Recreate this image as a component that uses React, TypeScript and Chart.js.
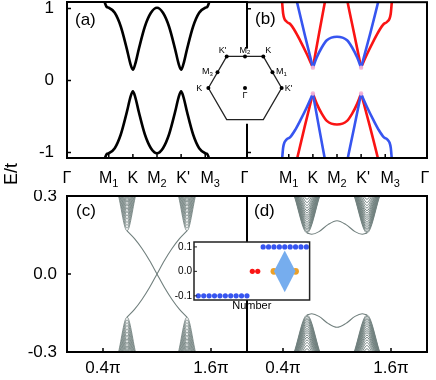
import React, { useEffect, useRef } from 'react';
import { Chart, registerables } from 'chart.js';

Chart.register(...registerables);

const FONT = "'Liberation Sans', Arial, Helvetica, sans-serif";

// ===== Top panels (a), (b): bands along Γ–M1–K–M2–K'–M3–Γ (path coordinate) =====
const pathTicks = [0, 1.732, 2.732, 3.732, 4.732, 5.732, 7.464];
const pathNames = ['Γ', 'M', 'K', 'M', "K'", 'M', 'Γ'];
const pathSubs = ['', '1', '', '2', '', '3', ''];
const topYTicks = [-1, 0, 1];

// (a) black bands
const aX = [1.45, 1.55, 1.65, 1.732, 1.98, 2.23, 2.48, 2.63, 2.732, 2.83, 2.98, 3.23, 3.48, 3.732, 3.98, 4.23, 4.48, 4.63, 4.732, 4.83, 4.98, 5.23, 5.48, 5.732, 5.81, 5.91, 6.01];
const aUpper = [1.23, 1.1, 1.02, 1.01, 0.94, 0.75, 0.44, 0.23, 0.15, 0.23, 0.44, 0.75, 0.94, 1.01, 0.94, 0.75, 0.44, 0.23, 0.15, 0.23, 0.44, 0.75, 0.94, 1.01, 1.02, 1.1, 1.23];
const aLower = [-1.23, -1.1, -1.02, -1.01, -0.94, -0.75, -0.44, -0.23, -0.15, -0.23, -0.44, -0.75, -0.94, -1.01, -0.94, -0.75, -0.44, -0.23, -0.15, -0.23, -0.44, -0.75, -0.94, -1.01, -1.02, -1.1, -1.23];

// (b) red / blue bands (upper)
const bR1X = [1.4, 1.45, 1.5, 1.64, 1.78, 1.99, 2.2, 2.48, 2.68, 2.732];
const bR1Y = [1.25, 1.11, 0.93, 0.82, 0.79, 0.69, 0.56, 0.37, 0.22, 0.18];
const bB1X = [2.0, 2.06, 2.4, 2.732];
const bB1Y = [1.2, 1.11, 0.63, 0.18];
const bR2X = [2.732, 2.98, 3.24, 3.29];
const bR2Y = [0.18, 0.64, 1.11, 1.2];
const bB2X = [2.732, 2.89, 3.1, 3.31, 3.732, 4.15, 4.36, 4.57, 4.732];
const bB2Y = [0.18, 0.32, 0.46, 0.56, 0.61, 0.56, 0.46, 0.32, 0.18];
const bR3X = [4.11, 4.16, 4.45, 4.732];
const bR3Y = [1.2, 1.11, 0.64, 0.18];
const bB3X = [4.732, 5.09, 5.45, 5.51];
const bB3Y = [0.18, 0.63, 1.11, 1.2];
const bR4X = [4.732, 4.78, 4.98, 5.26, 5.47, 5.68, 5.82, 5.96, 6.01, 6.06];
const bR4Y = [0.18, 0.22, 0.37, 0.56, 0.69, 0.79, 0.82, 0.93, 1.11, 1.25];
// (b) lower bands
const bB4Y = [-1.25, -1.11, -0.93, -0.82, -0.79, -0.69, -0.56, -0.37, -0.22, -0.18]; // on bR1X
const bR5Y = [-1.2, -1.11, -0.63, -0.18]; // on bB1X
const bB5Y = [-0.18, -0.64, -1.11, -1.2]; // on bR2X
const bR6Y = [-0.18, -0.32, -0.46, -0.56, -0.61, -0.56, -0.46, -0.32, -0.18]; // on bB2X
const bB6Y = [-1.2, -1.11, -0.64, -0.18]; // on bR3X
const bR7Y = [-0.18, -0.63, -1.11, -1.2]; // on bB3X
const bB7Y = [-0.18, -0.22, -0.37, -0.56, -0.69, -0.79, -0.82, -0.93, -1.11, -1.25]; // on bR4X
// (b) band-edge tips where red and blue meet
const bTipX = [2.732, 4.732, 2.732, 4.732];
const bTipY = [0.18, 0.18, -0.18, -0.18];

// Brillouin zone inset
const hexX = [-1, -0.5, 0.5, 1, 0.5, -0.5, -1];
const hexY = [0, 0.866, 0.866, 0, -0.866, -0.866, 0];
const bzX = [-0.5, 0, 0.5, 0.75, 1, 0, -1, -0.75];
const bzY = [0.866, 0.866, 0.866, 0.433, 0, 0, 0, 0.433];
const bzNames = ["K'", 'M', 'K', 'M', "K'", 'Γ', 'K', 'M'];
const bzSubs = ['', '2', '', '1', '', '', '', '3'];

// ===== Bottom panels (c), (d): ribbon spectra, k in units of π =====
const kTicks = [0.4, 1.6];
const botYTicks = [-0.3, 0, 0.3];
const coneK = [0.667, 1.333];

const cTipUp = [0.166, 0.176, 0.187, 0.198, 0.21, 0.222, 0.235, 0.248, 0.262, 0.276, 0.29];
const cTipDown = [-0.166, -0.176, -0.187, -0.198, -0.21, -0.222, -0.235, -0.248, -0.262, -0.276, -0.29];
const cHalfW = [0.094, 0.087, 0.079, 0.071, 0.063, 0.055, 0.046, 0.037, 0.027, 0.018, 0.008];
const cEdgeX = [0.667, 0.75, 0.833, 0.917, 1.0, 1.083, 1.167, 1.25, 1.333];
const cEdgeA = [0.166, 0.136, 0.098, 0.052, 0, -0.052, -0.098, -0.136, -0.166];
const cEdgeB = [-0.166, -0.136, -0.098, -0.052, 0, 0.052, 0.098, 0.136, 0.166];

const dTipUp = [0.158, 0.163, 0.169, 0.175, 0.181, 0.188, 0.195, 0.202, 0.21, 0.218, 0.226, 0.235, 0.244, 0.254, 0.264, 0.275, 0.287];
const dTipDown = [-0.158, -0.163, -0.169, -0.175, -0.181, -0.188, -0.195, -0.202, -0.21, -0.218, -0.226, -0.235, -0.244, -0.254, -0.264, -0.275, -0.287];
const dHalfW = [0.142, 0.139, 0.136, 0.133, 0.13, 0.126, 0.122, 0.118, 0.113, 0.108, 0.102, 0.095, 0.088, 0.079, 0.069, 0.055, 0.036];
const dEdgeX = [0.667, 0.72, 0.8, 0.9, 1.0, 1.1, 1.2, 1.28, 1.333];
const dEdgeUp = [0.158, 0.153, 0.163, 0.19, 0.205, 0.19, 0.163, 0.153, 0.158];
const dEdgeDown = [-0.158, -0.153, -0.163, -0.19, -0.205, -0.19, -0.163, -0.153, -0.158];

// inset (energy vs state number)
const insLowN = [1, 2, 3, 4, 5, 6, 7, 8, 9, 10];
const insLowE = [-0.1, -0.1, -0.1, -0.1, -0.1, -0.1, -0.1, -0.1, -0.1, -0.1];
const insRedN = [11, 12];
const insRedE = [0, 0];
const insHighN = [13, 14, 15, 16, 17, 18, 19, 20, 21];
const insHighE = [0.1, 0.1, 0.1, 0.1, 0.1, 0.1, 0.1, 0.1, 0.1];
const insOrangeN = [15, 19];
const insOrangeE = [0, 0];
const diamondN = [15, 17, 19, 17, 15];
const diamondE = [0, 0.085, 0, -0.085, 0];
const insYTicks = [-0.1, 0, 0.1];

// ===== styles =====
const RED = 'rgb(250,20,20)';
const BLUE = 'rgb(55,85,240)';
const GRAY = 'rgb(112,127,125)';
const PINK = 'rgba(246,178,214,0.95)';
const PATH_SHIFT = [0, 0, 0, 0, 2, 5, -2];
const BZ_DX = [-4, 0, 5, 9, 7, 0, -9, -10];
const BZ_DY = [-7, -7, -7, -1, 0, 7, 0, -1];

type Pt = { x: number; y: number };
const zip = (xs: number[], ys: number[]): Pt[] => xs.map((x, i) => ({ x, y: ys[i] }));

const lineDs = (data: Pt[], color: string, width: number, extra: any = {}) => ({
  data,
  borderColor: color,
  borderWidth: width,
  pointRadius: 0,
  pointHoverRadius: 0,
  fill: false,
  cubicInterpolationMode: 'monotone',
  order: 1,
  ...extra,
});

const dotDs = (xs: number[], ys: number[], color: string, r: number, order = 1) => ({
  data: zip(xs, ys),
  showLine: false,
  pointRadius: r,
  pointHoverRadius: r,
  pointBackgroundColor: color,
  pointBorderWidth: 0,
  borderColor: color,
  order,
});

function coneDatasets(centers: number[], tips: number[], halfW: number[], edgeY: number, width: number) {
  const out: any[] = [];
  centers.forEach((k) =>
    tips.forEach((t, i) =>
      out.push(
        lineDs(
          [
            { x: k - halfW[i], y: edgeY },
            { x: k, y: t },
            { x: k + halfW[i], y: edgeY },
          ],
          GRAY,
          width
        )
      )
    )
  );
  return out;
}

function drawSub(ctx: any, main: string, sub: string, cx: number, cy: number, size: number, subSize: number) {
  ctx.font = `${size}px ${FONT}`;
  const mw = ctx.measureText(main).width;
  ctx.font = `${subSize}px ${FONT}`;
  const sw = sub ? ctx.measureText(sub).width : 0;
  const x0 = cx - (mw + sw) / 2;
  const base = cy + size * 0.36;
  ctx.textAlign = 'left';
  ctx.textBaseline = 'alphabetic';
  ctx.font = `${size}px ${FONT}`;
  ctx.fillText(main, x0, base);
  if (sub) {
    ctx.font = `${subSize}px ${FONT}`;
    ctx.fillText(sub, x0 + mw, base + subSize * 0.3);
  }
}

const framePlugin = {
  id: 'frame',
  beforeDraw(chart: any, _a: any, o: any) {
    if (!o || !o.bg) return;
    const { ctx, chartArea: a } = chart;
    ctx.save();
    ctx.fillStyle = o.bg;
    ctx.fillRect(a.left, a.top, a.right - a.left, a.bottom - a.top);
    ctx.restore();
  },
  afterDatasetsDraw(chart: any, _a: any, o: any) {
    if (!o || o.off) return;
    const { ctx, chartArea: a } = chart;
    ctx.save();
    ctx.strokeStyle = o.color || '#000';
    ctx.lineWidth = o.width || 2;
    ctx.strokeRect(a.left, a.top, a.right - a.left, a.bottom - a.top);
    const len = o.tickLen ?? 4;
    ctx.lineWidth = o.tickWidth ?? 1.5;
    ctx.beginPath();
    (o.xTicks || []).forEach((t: number) => {
      const px = chart.scales.x.getPixelForValue(t);
      ctx.moveTo(px, a.bottom);
      ctx.lineTo(px, a.bottom - len);
    });
    (o.yTicks || []).forEach((t: number) => {
      const py = chart.scales.y.getPixelForValue(t);
      ctx.moveTo(a.left, py);
      ctx.lineTo(a.left + len, py);
    });
    ctx.stroke();
    ctx.restore();
  },
};

const bzPlugin = {
  id: 'bzbox',
  beforeDatasetsDraw(chart: any, _a: any, o: any) {
    if (!o || !o.box) return;
    const xs = chart.scales.x;
    const ys = chart.scales.y;
    const [x0, x1, y0, y1] = o.box;
    const ctx = chart.ctx;
    ctx.save();
    ctx.fillStyle = '#fff';
    const l = xs.getPixelForValue(x0);
    const r = xs.getPixelForValue(x1);
    const t = ys.getPixelForValue(y1);
    const b = ys.getPixelForValue(y0);
    ctx.fillRect(l, t, r - l, b - t);
    ctx.restore();
  },
};

const textPlugin = {
  id: 'texts',
  afterDraw(chart: any, _a: any, o: any) {
    if (!o) return;
    const { ctx, chartArea: a } = chart;
    ctx.save();
    ctx.fillStyle = '#000';
    if (o.panel) {
      ctx.font = `17px ${FONT}`;
      ctx.textAlign = 'left';
      ctx.textBaseline = 'middle';
      ctx.fillText(o.panel, a.left + o.panelDx, a.top + o.panelDy);
    }
    if (o.path) {
      const xs = chart.scales.x;
      pathTicks.forEach((v, i) => {
        if (o.skip && o.skip.includes(i)) return;
        drawSub(ctx, pathNames[i], pathSubs[i], xs.getPixelForValue(v) + PATH_SHIFT[i], a.bottom + 19.5, 16, 11);
      });
    }
    if (o.bz) {
      const xs = chart.scales.x;
      const ys = chart.scales.y;
      bzX.forEach((v, i) => {
        drawSub(ctx, bzNames[i], bzSubs[i], xs.getPixelForValue(v) + BZ_DX[i], ys.getPixelForValue(bzY[i]) + BZ_DY[i], 9, 6);
      });
    }
    if (o.xTitle) {
      ctx.font = `11px ${FONT}`;
      ctx.textAlign = 'center';
      ctx.textBaseline = 'middle';
      ctx.fillText(o.xTitle, (a.left + a.right) / 2, a.bottom + o.xTitleDy);
    }
    ctx.restore();
  },
};

const zeroPad = (s: any) => {
  s.paddingTop = 0;
  s.paddingBottom = 0;
  s.paddingLeft = 0;
  s.paddingRight = 0;
};

function axes(p: any) {
  const font = { family: FONT, size: p.fontSize ?? 17 };
  return {
    x: {
      type: 'linear',
      min: p.xMin,
      max: p.xMax,
      afterBuildTicks: (s: any) => {
        s.ticks = p.xTicks.map((value: number) => ({ value }));
      },
      afterFit: (s: any) => {
        s.height = p.xHeight;
        zeroPad(s);
      },
      grid: { display: false, drawTicks: false },
      border: { display: false },
      ticks: {
        display: !!p.xFmt,
        font,
        color: '#000',
        padding: p.xPad ?? 6,
        maxRotation: 0,
        autoSkip: false,
        callback: (v: number) => (p.xFmt ? p.xFmt(v) : ''),
      },
    },
    y: {
      type: 'linear',
      min: p.yMin,
      max: p.yMax,
      afterBuildTicks: (s: any) => {
        s.ticks = p.yTicks.map((value: number) => ({ value }));
      },
      afterFit: (s: any) => {
        s.width = p.yWidth;
        zeroPad(s);
      },
      grid: { display: false, drawTicks: false },
      border: { display: false },
      ticks: {
        display: !!p.yFmt,
        font,
        color: '#000',
        padding: p.yPad ?? 10,
        autoSkip: false,
        callback: (v: number) => (p.yFmt ? p.yFmt(v) : ''),
      },
    },
  };
}

function options(scales: any, plugins: any, padding: any) {
  return {
    animation: false,
    responsive: false,
    maintainAspectRatio: false,
    events: [],
    layout: { padding },
    scales,
    plugins: { legend: { display: false }, tooltip: { enabled: false }, ...plugins },
  };
}

const PLUGINS = [framePlugin, bzPlugin, textPlugin];

export default function App() {
  const refA = useRef<HTMLCanvasElement>(null);
  const refB = useRef<HTMLCanvasElement>(null);
  const refC = useRef<HTMLCanvasElement>(null);
  const refD = useRef<HTMLCanvasElement>(null);
  const refHex = useRef<HTMLCanvasElement>(null);
  const refIns = useRef<HTMLCanvasElement>(null);

  useEffect(() => {
    const charts: any[] = [];
    const fmt1 = (v: number) => v.toFixed(1);
    const fmtPi = (v: number) => `${v}π`;

    // (a)
    charts.push(
      new Chart(refA.current as any, {
        type: 'line',
        data: {
          datasets: [lineDs(zip(aX, aUpper), '#000', 2.6), lineDs(zip(aX, aLower), '#000', 2.6)],
        },
        options: options(
          axes({ xMin: 0, xMax: 7.464, yMin: -1.076, yMax: 1.09, xTicks: pathTicks, yTicks: topYTicks, yWidth: 67, xHeight: 34, yFmt: (v: number) => String(v), yPad: 13 }),
          { frame: { xTicks: pathTicks.slice(1, -1), yTicks: topYTicks }, texts: { panel: '(a)', panelDx: 8, panelDy: 18, path: true } },
          { top: 2, right: 1, left: 0, bottom: 0 }
        ),
        plugins: PLUGINS,
      } as any)
    );

    // (b)
    charts.push(
      new Chart(refB.current as any, {
        type: 'line',
        data: {
          datasets: [
            lineDs(zip(bB1X, bB1Y), BLUE, 2.6),
            lineDs(zip(bB2X, bB2Y), BLUE, 2.6),
            lineDs(zip(bB3X, bB3Y), BLUE, 2.6),
            lineDs(zip(bR1X, bB4Y), BLUE, 2.6),
            lineDs(zip(bR2X, bB5Y), BLUE, 2.6),
            lineDs(zip(bR3X, bB6Y), BLUE, 2.6),
            lineDs(zip(bR4X, bB7Y), BLUE, 2.6),
            lineDs(zip(bR1X, bR1Y), RED, 2.6),
            lineDs(zip(bR2X, bR2Y), RED, 2.6),
            lineDs(zip(bR3X, bR3Y), RED, 2.6),
            lineDs(zip(bR4X, bR4Y), RED, 2.6),
            lineDs(zip(bB1X, bR5Y), RED, 2.6),
            lineDs(zip(bB2X, bR6Y), RED, 2.6),
            lineDs(zip(bB3X, bR7Y), RED, 2.6),
            dotDs(bTipX, bTipY, PINK, 2.2, 0),
          ],
        },
        options: options(
          axes({ xMin: 0, xMax: 7.464, yMin: -1.076, yMax: 1.09, xTicks: pathTicks, yTicks: topYTicks, yWidth: 10, xHeight: 34 }),
          { frame: { xTicks: pathTicks.slice(1, -1), yTicks: topYTicks }, texts: { panel: '(b)', panelDx: 8, panelDy: 17, path: true, skip: [0] } },
          { top: 2, right: 9, left: 0, bottom: 0 }
        ),
        plugins: PLUGINS,
      } as any)
    );

    // (c)
    charts.push(
      new Chart(refC.current as any, {
        type: 'line',
        data: {
          datasets: [
            ...coneDatasets(coneK, cTipUp, cHalfW, 0.3, 0.85),
            ...coneDatasets(coneK, cTipDown, cHalfW, -0.3, 0.85),
            lineDs(zip(cEdgeX, cEdgeA), GRAY, 1.1),
            lineDs(zip(cEdgeX, cEdgeB), GRAY, 1.1),
          ],
        },
        options: options(
          axes({ xMin: 0, xMax: 2, yMin: -0.3, yMax: 0.3, xTicks: kTicks, yTicks: botYTicks, yWidth: 67, xHeight: 28, xFmt: fmtPi, yFmt: fmt1, yPad: 10, xPad: 6 }),
          { frame: { xTicks: kTicks, yTicks: [0] }, texts: { panel: '(c)', panelDx: 9, panelDy: 15 } },
          { top: 6, right: 1, left: 0, bottom: 0 }
        ),
        plugins: PLUGINS,
      } as any)
    );

    // (d)
    charts.push(
      new Chart(refD.current as any, {
        type: 'line',
        data: {
          datasets: [
            ...coneDatasets(coneK, dTipUp, dHalfW, 0.3, 0.95),
            ...coneDatasets(coneK, dTipDown, dHalfW, -0.3, 0.95),
            lineDs(zip(dEdgeX, dEdgeUp), GRAY, 1.1),
            lineDs(zip(dEdgeX, dEdgeDown), GRAY, 1.1),
          ],
        },
        options: options(
          axes({ xMin: 0, xMax: 2, yMin: -0.3, yMax: 0.3, xTicks: kTicks, yTicks: botYTicks, yWidth: 10, xHeight: 28, xFmt: fmtPi, xPad: 6 }),
          { frame: { xTicks: kTicks, yTicks: [0] }, texts: { panel: '(d)', panelDx: 7, panelDy: 15 } },
          { top: 6, right: 9, left: 0, bottom: 0 }
        ),
        plugins: PLUGINS,
      } as any)
    );

    // Brillouin zone
    charts.push(
      new Chart(refHex.current as any, {
        type: 'line',
        data: {
          datasets: [
            {
              data: zip(hexX, hexY),
              borderColor: '#222',
              borderWidth: 1.3,
              backgroundColor: '#fff',
              fill: 'shape',
              pointRadius: 0,
              tension: 0,
              order: 2,
            },
            dotDs(bzX, bzY, '#000', 2, 1),
          ],
        },
        options: {
          animation: false,
          responsive: false,
          maintainAspectRatio: false,
          events: [],
          layout: { padding: 0 },
          scales: {
            x: { type: 'linear', display: false, min: -1.447, max: 1.447 },
            y: { type: 'linear', display: false, min: -1.316, max: 1.316 },
          },
          plugins: {
            legend: { display: false },
            tooltip: { enabled: false },
            frame: { off: true },
            bzbox: { box: [-0.28, 0.28, -0.98, 1.08] },
            texts: { bz: true },
          },
        },
        plugins: PLUGINS,
      } as any)
    );

    // inset
    charts.push(
      new Chart(refIns.current as any, {
        type: 'line',
        data: {
          datasets: [
            dotDs(insLowN, insLowE, BLUE, 2.6),
            dotDs(insHighN, insHighE, BLUE, 2.6),
            dotDs(insRedN, insRedE, RED, 2.6),
            dotDs(insOrangeN, insOrangeE, 'rgb(236,160,40)', 3.4),
            {
              data: zip(diamondN, diamondE),
              borderWidth: 0,
              borderColor: 'rgba(0,0,0,0)',
              backgroundColor: 'rgb(118,173,238)',
              fill: 'shape',
              pointRadius: 0,
              tension: 0,
              order: 0,
            },
          ],
        },
        options: options(
          axes({ xMin: 0.2, xMax: 21.6, yMin: -0.117, yMax: 0.12, xTicks: [], yTicks: insYTicks, yWidth: 26, xHeight: 16, yFmt: fmt1, yPad: 2, fontSize: 10 }),
          { frame: { bg: '#fff', width: 1.5, color: '#222', yTicks: insYTicks, tickLen: 3, tickWidth: 1 }, texts: { xTitle: 'Number', xTitleDy: 6 } },
          { top: 4, right: 2, left: 0, bottom: 0 }
        ),
        plugins: PLUGINS,
      } as any)
    );

    return () => charts.forEach((c) => c.destroy());
  }, []);

  const abs = (left: number, top: number, width: number, height: number): React.CSSProperties => ({
    position: 'absolute',
    left,
    top,
    width,
    height,
  });

  return (
    <div style={{ position: 'absolute', left: 0, top: 0, width: 436, height: 380, background: '#fff', overflow: 'hidden' }}>
      <canvas ref={refA} width={248} height={192} style={abs(0, 0, 248, 192)} />
      <canvas ref={refB} width={199} height={192} style={abs(237, 0, 199, 192)} />
      <canvas ref={refC} width={248} height={190} style={abs(0, 190, 248, 190)} />
      <canvas ref={refD} width={199} height={190} style={abs(237, 190, 199, 190)} />
      <canvas ref={refHex} width={110} height={100} style={abs(190, 38, 110, 100)} />
      <canvas ref={refIns} width={145} height={78} style={abs(168, 238, 145, 78)} />
      <div
        style={{
          position: 'absolute',
          left: 11,
          top: 174,
          transform: 'translate(-50%, -50%) rotate(-90deg)',
          font: `18px ${FONT}`,
          color: '#000',
          whiteSpace: 'nowrap',
        }}
      >
        E/t
      </div>
    </div>
  );
}
